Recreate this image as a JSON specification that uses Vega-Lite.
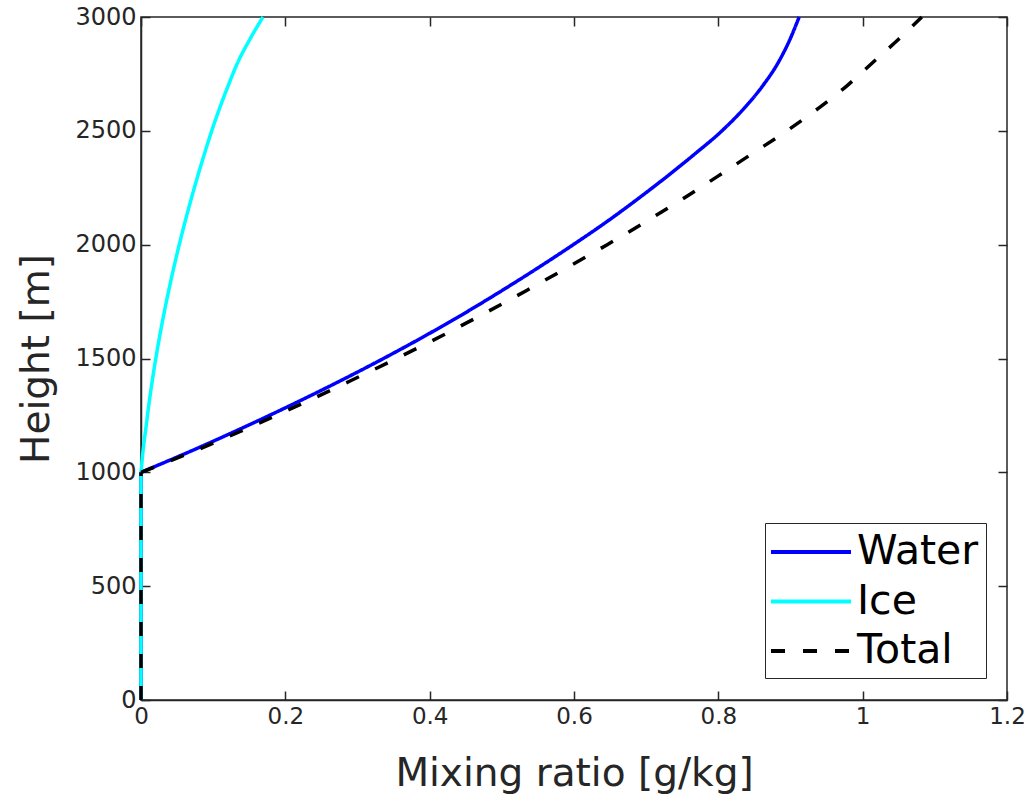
{
  "$schema": "https://vega.github.io/schema/vega-lite/v6.json",
  "width": 866,
  "height": 683,
  "autosize": {"type": "none"},
  "padding": {"left": 141, "top": 17, "right": 27, "bottom": 95},
  "background": "white",
  "config": {
    "font": "DejaVu Sans",
    "view": {"stroke": "#262626", "strokeWidth": 1.5},
    "axis": {
      "grid": false,
      "domainColor": "#262626",
      "domainWidth": 1.5,
      "tickColor": "#262626",
      "tickWidth": 1.5,
      "tickSize": -9,
      "labelFlush": false,
      "labelOverlap": false,
      "labelColor": "#262626",
      "labelFont": "DejaVu Sans",
      "labelFontSize": 23,
      "titleColor": "#262626",
      "titleFont": "DejaVu Sans",
      "titleFontSize": 39,
      "titleFontWeight": "normal"
    },
    "legend": {
      "orient": "none",
      "legendX": 624,
      "legendY": 506,
      "strokeColor": "#262626",
      "fillColor": "white",
      "padding": 7,
      "symbolType": "M-2,0H2",
      "symbolSize": 1600,
      "symbolOffset": 17,
      "symbolStrokeWidth": 4,
      "labelFont": "DejaVu Sans",
      "labelFontSize": 41,
      "labelColor": "#000000",
      "labelOffset": 24,
      "rowPadding": 7.5
    }
  },
  "data": {
    "values": [
      {"series": "Water", "part": "below", "h": 0, "r": 0},
      {"series": "Water", "part": "below", "h": 1000, "r": 0},
      {"series": "Water", "part": "cloud", "h": 1000, "r": 0},
      {"series": "Water", "part": "cloud", "h": 1100, "r": 0.074},
      {"series": "Water", "part": "cloud", "h": 1200, "r": 0.144},
      {"series": "Water", "part": "cloud", "h": 1300, "r": 0.211},
      {"series": "Water", "part": "cloud", "h": 1400, "r": 0.275},
      {"series": "Water", "part": "cloud", "h": 1500, "r": 0.336},
      {"series": "Water", "part": "cloud", "h": 1600, "r": 0.394},
      {"series": "Water", "part": "cloud", "h": 1700, "r": 0.449},
      {"series": "Water", "part": "cloud", "h": 1800, "r": 0.501},
      {"series": "Water", "part": "cloud", "h": 1900, "r": 0.551},
      {"series": "Water", "part": "cloud", "h": 2000, "r": 0.599},
      {"series": "Water", "part": "cloud", "h": 2100, "r": 0.645},
      {"series": "Water", "part": "cloud", "h": 2200, "r": 0.688},
      {"series": "Water", "part": "cloud", "h": 2300, "r": 0.729},
      {"series": "Water", "part": "cloud", "h": 2400, "r": 0.768},
      {"series": "Water", "part": "cloud", "h": 2500, "r": 0.805},
      {"series": "Water", "part": "cloud", "h": 2600, "r": 0.836},
      {"series": "Water", "part": "cloud", "h": 2700, "r": 0.862},
      {"series": "Water", "part": "cloud", "h": 2800, "r": 0.883},
      {"series": "Water", "part": "cloud", "h": 2900, "r": 0.899},
      {"series": "Water", "part": "cloud", "h": 3000, "r": 0.912},
      {"series": "Ice", "part": "below", "h": 0, "r": 0},
      {"series": "Ice", "part": "below", "h": 1000, "r": 0},
      {"series": "Ice", "part": "cloud", "h": 1000, "r": 0},
      {"series": "Ice", "part": "cloud", "h": 1100, "r": 0.003},
      {"series": "Ice", "part": "cloud", "h": 1200, "r": 0.007},
      {"series": "Ice", "part": "cloud", "h": 1300, "r": 0.011},
      {"series": "Ice", "part": "cloud", "h": 1400, "r": 0.0155},
      {"series": "Ice", "part": "cloud", "h": 1500, "r": 0.0205},
      {"series": "Ice", "part": "cloud", "h": 1600, "r": 0.026},
      {"series": "Ice", "part": "cloud", "h": 1700, "r": 0.032},
      {"series": "Ice", "part": "cloud", "h": 1800, "r": 0.0385},
      {"series": "Ice", "part": "cloud", "h": 1900, "r": 0.0455},
      {"series": "Ice", "part": "cloud", "h": 2000, "r": 0.053},
      {"series": "Ice", "part": "cloud", "h": 2100, "r": 0.061},
      {"series": "Ice", "part": "cloud", "h": 2200, "r": 0.0695},
      {"series": "Ice", "part": "cloud", "h": 2300, "r": 0.0785},
      {"series": "Ice", "part": "cloud", "h": 2400, "r": 0.088},
      {"series": "Ice", "part": "cloud", "h": 2500, "r": 0.098},
      {"series": "Ice", "part": "cloud", "h": 2600, "r": 0.109},
      {"series": "Ice", "part": "cloud", "h": 2700, "r": 0.121},
      {"series": "Ice", "part": "cloud", "h": 2800, "r": 0.134},
      {"series": "Ice", "part": "cloud", "h": 2900, "r": 0.1505},
      {"series": "Ice", "part": "cloud", "h": 3000, "r": 0.169},
      {"series": "Total", "part": "below", "h": 0, "r": 0},
      {"series": "Total", "part": "below", "h": 1000, "r": 0},
      {"series": "Total", "part": "cloud", "h": 1000, "r": 0},
      {"series": "Total", "part": "cloud", "h": 1100, "r": 0.079},
      {"series": "Total", "part": "cloud", "h": 1200, "r": 0.152},
      {"series": "Total", "part": "cloud", "h": 1300, "r": 0.222},
      {"series": "Total", "part": "cloud", "h": 1400, "r": 0.289},
      {"series": "Total", "part": "cloud", "h": 1500, "r": 0.354},
      {"series": "Total", "part": "cloud", "h": 1600, "r": 0.417},
      {"series": "Total", "part": "cloud", "h": 1700, "r": 0.477},
      {"series": "Total", "part": "cloud", "h": 1800, "r": 0.535},
      {"series": "Total", "part": "cloud", "h": 1900, "r": 0.591},
      {"series": "Total", "part": "cloud", "h": 2000, "r": 0.646},
      {"series": "Total", "part": "cloud", "h": 2100, "r": 0.699},
      {"series": "Total", "part": "cloud", "h": 2200, "r": 0.75},
      {"series": "Total", "part": "cloud", "h": 2300, "r": 0.799},
      {"series": "Total", "part": "cloud", "h": 2400, "r": 0.847},
      {"series": "Total", "part": "cloud", "h": 2500, "r": 0.895},
      {"series": "Total", "part": "cloud", "h": 2600, "r": 0.939},
      {"series": "Total", "part": "cloud", "h": 2700, "r": 0.979},
      {"series": "Total", "part": "cloud", "h": 2800, "r": 1.014},
      {"series": "Total", "part": "cloud", "h": 2900, "r": 1.049},
      {"series": "Total", "part": "cloud", "h": 3000, "r": 1.082}
    ]
  },
  "layer": [
    {
      "encoding": {
        "x": {
          "field": "r",
          "type": "quantitative",
          "scale": {"domain": [0, 1.2], "nice": false, "zero": false},
          "axis": {"title": "Mixing ratio [g/kg]", "values": [0, 0.2, 0.4, 0.6, 0.8, 1, 1.2], "format": "~g", "labelPadding": 14, "titlePadding": 26}
        },
        "y": {
          "field": "h",
          "type": "quantitative",
          "scale": {"domain": [0, 3000], "nice": false, "zero": false},
          "axis": {"title": "Height [m]", "values": [0, 500, 1000, 1500, 2000, 2500, 3000], "format": "d", "labelFontSize": 24, "labelPadding": 14, "titlePadding": 18}
        },
        "order": {"field": "h", "type": "quantitative"},
        "detail": {"field": "part"},
        "color": {
          "field": "series",
          "type": "nominal",
          "title": null,
          "scale": {"domain": ["Water", "Ice", "Total"], "range": ["#0000ff", "#00ffff", "#000000"]}
        },
        "strokeDash": {
          "field": "series",
          "type": "nominal",
          "title": null,
          "scale": {"domain": ["Water", "Ice", "Total"], "range": [[1, 0], [1, 0], [14, 18]]}
        }
      },
      "layer": [
        {
          "transform": [{"filter": "datum.series === 'Water'"}],
          "mark": {"type": "line", "strokeWidth": 3.5, "interpolate": "monotone"}
        },
        {
          "transform": [{"filter": "datum.series === 'Ice'"}],
          "mark": {"type": "line", "strokeWidth": 3.5, "interpolate": "monotone"}
        },
        {
          "transform": [{"filter": "datum.series === 'Total'"}],
          "mark": {"type": "line", "strokeWidth": 3.5, "interpolate": "monotone"}
        }
      ]
    },
    {
      "mark": {"type": "line", "opacity": 0},
      "encoding": {
        "x": {
          "field": "r",
          "type": "quantitative",
          "scale": {"domain": [0, 1.2], "nice": false, "zero": false},
          "axis": {"orient": "top", "labels": false, "title": null, "domain": false, "values": [0, 0.2, 0.4, 0.6, 0.8, 1, 1.2]}
        },
        "y": {
          "field": "h",
          "type": "quantitative",
          "scale": {"domain": [0, 3000], "nice": false, "zero": false},
          "axis": {"orient": "right", "labels": false, "title": null, "domain": false, "values": [0, 500, 1000, 1500, 2000, 2500, 3000]}
        },
        "order": {"field": "h", "type": "quantitative"},
        "detail": {"field": "series"},
        "color": {"value": "#000000"}
      }
    }
  ],
  "resolve": {"axis": {"x": "independent", "y": "independent"}}
}
